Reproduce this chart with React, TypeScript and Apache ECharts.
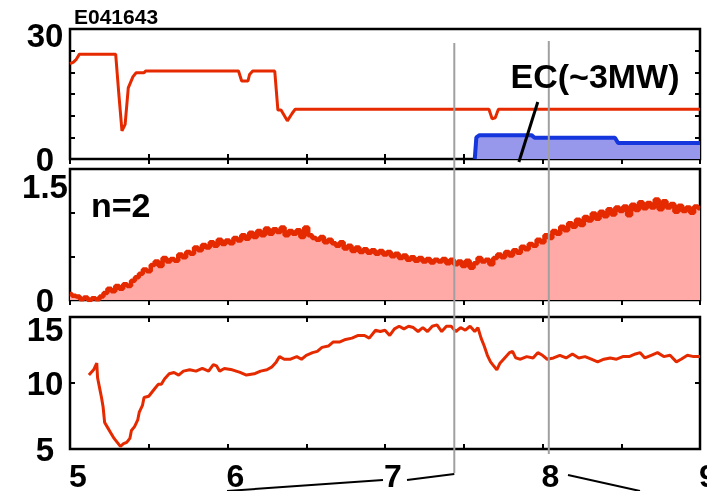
import React, { useEffect, useRef } from "react";
import * as echarts from "echarts";

const shotLabel = "E041643";
const ecLabel = "EC(~3MW)";
const modeLabel = "n=2";
const xLabels = [5, 6, 7, 8, 9];
const markerTimes = [7.44, 8.04];

// top panel: red trace (step-like)
const topRed: [number, number][] = [
  [5.0, 22.0], [5.02, 22.3], [5.04, 23.0], [5.06, 24.2], [5.29, 24.2], [5.31, 15.0], [5.33, 6.5],
  [5.35, 8.0], [5.37, 16.4], [5.4, 19.0], [5.42, 19.9], [5.47, 19.9], [5.48, 20.3], [6.07, 20.3],
  [6.09, 18.0], [6.13, 18.0], [6.14, 19.5], [6.16, 20.3], [6.3, 20.3], [6.32, 11.3], [6.34, 11.3],
  [6.38, 8.8], [6.41, 10.5], [6.43, 11.5], [7.66, 11.5], [7.68, 9.3], [7.7, 9.5], [7.72, 11.5], [9.0, 11.5],
];

// top panel: EC power (blue filled)
const ecPower: [number, number][] = [
  [7.57, 0], [7.58, 5.0], [7.6, 5.5], [7.93, 5.5], [7.95, 4.9], [8.46, 4.9], [8.48, 3.7], [9.0, 3.7],
];

// middle panel: n=2 amplitude
const n2Amp: [number, number][] = [
  [5.0, 0.07], [5.025, 0.05], [5.05, 0.04], [5.075, 0.01], [5.1, 0.03], [5.125, 0.0], [5.15, 0.02],
  [5.175, 0.01], [5.2, 0.04], [5.225, 0.08], [5.25, 0.13], [5.275, 0.1], [5.3, 0.16], [5.325, 0.13],
  [5.35, 0.18], [5.375, 0.16], [5.4, 0.22], [5.425, 0.26], [5.45, 0.3], [5.475, 0.35], [5.5, 0.33],
  [5.525, 0.4], [5.55, 0.44], [5.575, 0.39], [5.6, 0.48], [5.625, 0.44], [5.65, 0.47], [5.675, 0.45],
  [5.7, 0.52], [5.725, 0.49], [5.75, 0.55], [5.775, 0.53], [5.8, 0.6], [5.825, 0.57], [5.85, 0.63],
  [5.875, 0.6], [5.9, 0.66], [5.925, 0.62], [5.95, 0.69], [5.975, 0.64], [6.0, 0.68], [6.025, 0.65],
  [6.05, 0.71], [6.075, 0.68], [6.1, 0.74], [6.125, 0.7], [6.15, 0.77], [6.175, 0.72], [6.2, 0.79],
  [6.225, 0.74], [6.25, 0.82], [6.275, 0.76], [6.3, 0.81], [6.325, 0.78], [6.35, 0.83], [6.375, 0.74],
  [6.4, 0.79], [6.425, 0.76], [6.45, 0.8], [6.475, 0.72], [6.5, 0.83], [6.525, 0.74], [6.55, 0.71],
  [6.575, 0.69], [6.6, 0.72], [6.625, 0.66], [6.65, 0.69], [6.675, 0.65], [6.7, 0.62], [6.725, 0.66],
  [6.75, 0.59], [6.775, 0.62], [6.8, 0.56], [6.825, 0.6], [6.85, 0.55], [6.875, 0.58], [6.9, 0.54],
  [6.925, 0.57], [6.95, 0.53], [6.975, 0.56], [7.0, 0.52], [7.025, 0.55], [7.05, 0.5], [7.075, 0.53],
  [7.1, 0.48], [7.125, 0.51], [7.15, 0.46], [7.175, 0.49], [7.2, 0.45], [7.225, 0.48], [7.25, 0.44],
  [7.275, 0.47], [7.3, 0.43], [7.325, 0.46], [7.35, 0.44], [7.375, 0.47], [7.4, 0.42], [7.425, 0.46],
  [7.45, 0.41], [7.475, 0.44], [7.5, 0.39], [7.525, 0.45], [7.55, 0.37], [7.575, 0.42], [7.6, 0.48],
  [7.625, 0.44], [7.65, 0.46], [7.675, 0.41], [7.7, 0.48], [7.725, 0.52], [7.75, 0.49], [7.775, 0.55],
  [7.8, 0.51], [7.825, 0.57], [7.85, 0.54], [7.875, 0.61], [7.9, 0.58], [7.925, 0.64], [7.95, 0.62],
  [7.975, 0.69], [8.0, 0.66], [8.025, 0.74], [8.05, 0.71], [8.075, 0.79], [8.1, 0.76], [8.125, 0.84],
  [8.15, 0.8], [8.175, 0.88], [8.2, 0.84], [8.225, 0.92], [8.25, 0.86], [8.275, 0.95], [8.3, 0.91],
  [8.325, 0.99], [8.35, 0.93], [8.375, 1.01], [8.4, 0.96], [8.425, 1.04], [8.45, 0.98], [8.475, 1.06],
  [8.5, 1.02], [8.525, 1.07], [8.55, 0.97], [8.575, 1.09], [8.6, 1.03], [8.625, 1.12], [8.65, 1.05],
  [8.675, 1.11], [8.7, 1.06], [8.725, 1.15], [8.75, 1.04], [8.775, 1.13], [8.8, 1.06], [8.825, 1.1],
  [8.85, 1.01], [8.875, 1.08], [8.9, 1.02], [8.925, 1.06], [8.95, 1.0], [8.975, 1.07], [9.0, 1.05],
];

// bottom panel trace
const bottomRed: [number, number][] = [
  [5.12, 10.6], [5.15, 11.0], [5.17, 11.5], [5.175, 10.4], [5.19, 9.5], [5.2, 8.9], [5.21, 8.2],
  [5.22, 7.0], [5.24, 6.6], [5.26, 6.2], [5.28, 5.8], [5.3, 5.5], [5.32, 5.2], [5.34, 5.4], [5.36, 5.5],
  [5.38, 5.8], [5.39, 6.4], [5.41, 6.7], [5.43, 7.2], [5.44, 7.8], [5.46, 8.3], [5.47, 8.9], [5.5, 9.0],
  [5.52, 9.3], [5.54, 9.6], [5.56, 9.9], [5.58, 9.9], [5.6, 10.3], [5.63, 10.7], [5.66, 10.8],
  [5.69, 10.6], [5.72, 10.9], [5.76, 11.0], [5.8, 10.9], [5.84, 11.1], [5.88, 10.9], [5.91, 11.4],
  [5.93, 11.3], [5.95, 10.9], [5.98, 11.1], [6.03, 11.0], [6.08, 10.8], [6.12, 10.6], [6.17, 10.7],
  [6.21, 10.9], [6.25, 11.0], [6.28, 11.2], [6.31, 11.6], [6.33, 12.0], [6.36, 11.8], [6.4, 11.8],
  [6.44, 12.0], [6.47, 11.8], [6.5, 12.1], [6.54, 12.3], [6.57, 12.4], [6.6, 12.7], [6.64, 12.8],
  [6.67, 13.1], [6.71, 13.1], [6.75, 13.3], [6.79, 13.4], [6.83, 13.6], [6.87, 13.6], [6.9, 13.4],
  [6.94, 14.0], [6.97, 13.9], [7.0, 14.0], [7.03, 13.6], [7.06, 14.1], [7.09, 14.3], [7.12, 14.1],
  [7.15, 14.3], [7.18, 14.2], [7.21, 13.9], [7.24, 14.2], [7.27, 13.9], [7.3, 14.3], [7.33, 14.4],
  [7.36, 13.9], [7.39, 14.3], [7.42, 14.3], [7.45, 13.9], [7.48, 14.2], [7.51, 14.0], [7.54, 14.3],
  [7.57, 13.9], [7.59, 14.2], [7.61, 13.4], [7.63, 12.8], [7.65, 12.1], [7.67, 11.6], [7.69, 11.3],
  [7.71, 11.0], [7.73, 11.5], [7.76, 11.9], [7.79, 12.3], [7.81, 12.4], [7.83, 11.9], [7.86, 11.8],
  [7.9, 12.0], [7.94, 11.9], [7.97, 12.3], [8.0, 12.1], [8.03, 11.8], [8.07, 11.9], [8.11, 12.1],
  [8.15, 11.9], [8.19, 12.2], [8.23, 11.9], [8.27, 12.0], [8.31, 11.8], [8.35, 11.6], [8.39, 11.8],
  [8.43, 11.9], [8.47, 11.8], [8.51, 12.0], [8.55, 12.0], [8.59, 12.2], [8.62, 12.3], [8.65, 11.9],
  [8.69, 12.1], [8.73, 12.3], [8.77, 12.0], [8.81, 12.1], [8.85, 11.6], [8.88, 11.8], [8.92, 12.1],
  [8.96, 12.0], [9.0, 12.0],
];

const RED = "#e62a00";
const FONT = "'Liberation Sans', Arial, sans-serif";

export default function App() {
  const ref = useRef<HTMLDivElement>(null);
  useEffect(() => {
    if (!ref.current) return;
    const chart = echarts.init(ref.current, undefined, { renderer: "svg" });
    const grids = [
      { left: 70, top: 29, width: 630, height: 130 },
      { left: 70, top: 169, width: 630, height: 131 },
      { left: 70, top: 317, width: 630, height: 132 },
    ].map((g) => ({
      ...g, show: true, borderColor: "#000", borderWidth: 2.5, backgroundColor: "transparent",
      containLabel: false, outerBoundsMode: "none",
    }));

    const tick = { show: true, inside: true, length: 5, lineStyle: { color: "#000", width: 2 } };
    const xAxes: any[] = [];
    const yAxes: any[] = [];
    const yCfg = [
      { min: 0, max: 30, interval: 5, labels: [0, 30], pad: { 30: 12 } as Record<number, number> },
      { min: 0, max: 1.5, interval: 0.5, labels: [0, 1.5], pad: { 1.5: 34 } as Record<number, number> },
      { min: 5, max: 15, interval: 5, labels: [5, 10, 15], pad: { 15: 24 } as Record<number, number> },
    ];
    for (let i = 0; i < 3; i++) {
      ["bottom", "top"].forEach((pos) => {
        xAxes.push({
          type: "value", gridIndex: i, position: pos, min: 5, max: 9, interval: 0.5,
          axisLine: { show: false }, axisTick: tick, splitLine: { show: false },
          axisLabel: {
            show: i === 2 && pos === "bottom",
            formatter: (v: number) => (xLabels.includes(v) ? String(v) : ""),
            fontSize: 32, fontWeight: "bold", color: "#000", fontFamily: FONT, margin: 11,
            padding: [0, 0, 0, 16], hideOverlap: false,
          },
        });
      });
      const c = yCfg[i];
      ["left", "right"].forEach((pos) => {
        yAxes.push({
          type: "value", gridIndex: i, position: pos, min: c.min, max: c.max, interval: c.interval,
          axisLine: { show: false }, axisTick: tick, splitLine: { show: false },
          axisLabel: {
            show: pos === "left",
            align: "center", margin: 25, hideOverlap: false,
            formatter: (v: number) => {
              if (!c.labels.some((l) => Math.abs(l - v) < 1e-9)) return "";
              const key = Object.keys(c.pad).find((k) => Math.abs(Number(k) - v) < 1e-9);
              return key ? `{p${i}|${v}}` : `{n|${v}}`;
            },
            rich: {
              n: { fontSize: 33, fontWeight: "bold", color: "#000", fontFamily: FONT },
              p0: { fontSize: 33, fontWeight: "bold", color: "#000", fontFamily: FONT, padding: [12, 0, 0, 0] },
              p1: { fontSize: 33, fontWeight: "bold", color: "#000", fontFamily: FONT, padding: [34, 0, 0, 0] },
              p2: { fontSize: 33, fontWeight: "bold", color: "#000", fontFamily: FONT, padding: [24, 0, 0, 0] },
            },
          },
        });
      });
    }

    chart.setOption({
      animation: false,
      grid: grids,
      xAxis: xAxes,
      yAxis: yAxes,
      series: [
        {
          type: "line", xAxisIndex: 0, yAxisIndex: 0, data: ecPower, showSymbol: false, symbol: "none",
          lineStyle: { color: "#1436dc", width: 4 }, areaStyle: { color: "#9797ec", opacity: 1 }, z: 2,
        },
        {
          type: "line", xAxisIndex: 0, yAxisIndex: 0, data: topRed, showSymbol: false, symbol: "none",
          lineStyle: { color: RED, width: 3 }, z: 3,
        },
        {
          type: "line", xAxisIndex: 2, yAxisIndex: 2, data: n2Amp, showSymbol: false, symbol: "none",
          step: "middle", lineStyle: { color: RED, width: 4.5 }, areaStyle: { color: "#ffaaa6", opacity: 1 },
        },
        {
          type: "line", xAxisIndex: 4, yAxisIndex: 4, data: bottomRed, showSymbol: false, symbol: "none",
          lineStyle: { color: RED, width: 3 },
        },
      ],
    });

    const px = (t: number) => chart.convertToPixel({ xAxisIndex: 0 }, t) as number;
    const g0 = px(markerTimes[0]);
    const g1 = px(markerTimes[1]);
    chart.setOption({
      graphic: [
        { type: "line", shape: { x1: g0, y1: 43, x2: g0, y2: 473 }, style: { stroke: "#a0a0a0", lineWidth: 2 }, z: 50 },
        { type: "line", shape: { x1: g1, y1: 41, x2: g1, y2: 454 }, style: { stroke: "#a0a0a0", lineWidth: 2 }, z: 50 },
        { type: "line", shape: { x1: 227, y1: 491, x2: 383, y2: 480 }, style: { stroke: "#000", lineWidth: 2 }, z: 50 },
        { type: "line", shape: { x1: 407, y1: 480, x2: g0, y2: 474 }, style: { stroke: "#000", lineWidth: 2 }, z: 50 },
        { type: "line", shape: { x1: 568, y1: 475, x2: 640, y2: 491 }, style: { stroke: "#000", lineWidth: 2 }, z: 50 },
        { type: "line", shape: { x1: px(7.97), y1: 102, x2: px(7.85), y2: 162 }, style: { stroke: "#000", lineWidth: 3 }, z: 50 },
        {
          type: "text", x: 74, y: 16, z: 60,
          style: { text: shotLabel, fontSize: 21, fontWeight: "bold", fill: "#000", fontFamily: FONT, verticalAlign: "middle" },
        },
        {
          type: "text", x: 595, y: 76, z: 60,
          style: { text: ecLabel, fontSize: 34, fontWeight: "bold", fill: "#000", fontFamily: FONT, align: "center", verticalAlign: "middle" },
        },
        {
          type: "text", x: 91, y: 205, z: 60,
          style: { text: modeLabel, fontSize: 34, fontWeight: "bold", fill: "#000", fontFamily: FONT, verticalAlign: "middle" },
        },
      ],
    });
    return () => chart.dispose();
  }, []);
  return <div ref={ref} style={{ position: "fixed", left: 0, top: 0, width: 707, height: 491 }} />;
}
